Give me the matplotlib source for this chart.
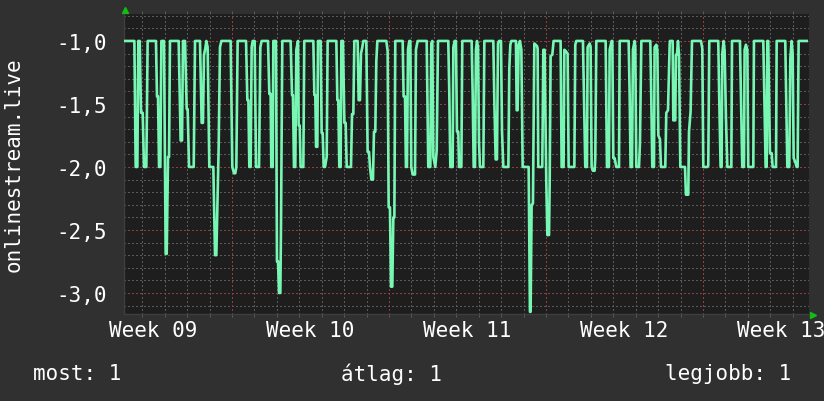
import matplotlib
matplotlib.use('Agg')
import matplotlib.pyplot as plt
from matplotlib.ticker import MultipleLocator, FixedLocator, FuncFormatter

# hours since the start of the graph (one block per ~6 days)
hours_1 = [1.0, 11.1, 12.5, 14.3, 15.3, 16.8, 18.2, 20.0, 21.4, 23.9,
           25.3, 34.2, 35.3, 36.4, 37.5, 38.9, 40.0, 42.8, 44.6, 45.7,
           47.1, 48.2, 49.2, 58.5, 60.6, 62.1, 63.1, 65.3, 67.1, 68.1,
           69.6, 74.6, 76.0, 81.3, 83.1, 84.5, 85.6, 87.0, 88.1, 89.5,
           91.3, 95.6, 97.4, 98.8, 99.9, 101.3, 102.7, 104.2, 114.1, 115.9,
           117.7, 119.1, 120.2, 121.6, 130.6, 132.0, 133.1, 134.1, 135.5, 136.6,
           137.7, 139.8, 141.3, 144.5]
values_1 = [-1.0, -1.0, -2.0, -2.0, -1.0, -1.0, -1.57, -1.57, -2.0, -2.0,
            -1.0, -1.0, -1.44, -1.44, -2.0, -2.0, -1.0, -1.0, -2.69, -2.69,
            -1.92, -1.92, -1.0, -1.0, -1.79, -1.79, -1.0, -1.0, -1.54, -1.54,
            -2.0, -2.0, -1.0, -1.0, -1.65, -1.65, -1.11, -1.06, -1.0, -1.05,
            -2.0, -2.0, -2.70, -2.70, -2.31, -1.84, -1.05, -1.0, -1.0, -2.0,
            -2.05, -2.05, -2.0, -1.0, -1.0, -1.47, -1.47, -2.0, -2.0, -1.05,
            -1.0, -1.0, -2.0, -2.0]

hours_2 = [145.9, 147.3, 154.1, 155.5, 156.9, 157.6, 159.1, 159.8, 162.6, 163.7,
           164.8, 165.9, 167.3, 168.0, 169.4, 178.3, 179.8, 180.8, 181.9, 183.3,
           184.4, 186.2, 186.9, 188.0, 189.0, 191.9, 192.9, 202.6, 203.7, 204.7,
           205.5, 206.9, 207.6, 210.4, 211.5, 212.6, 213.7, 215.1, 216.9, 217.9,
           227.2, 228.3, 229.3, 230.4, 231.8, 232.6, 234.3, 235.8, 237.2, 238.3,
           242.9, 244.0, 245.4, 246.5, 250.0, 251.1, 252.5, 253.6, 255.0, 256.1,
           259.3, 260.7, 262.2, 263.2, 264.7, 266.4, 267.5, 268.9, 270.0, 271.1,
           280.7, 282.1, 283.2, 284.6, 285.7, 287.1, 288.2, 289.3, 290.3]
values_2 = [-1.05, -1.0, -1.0, -1.42, -1.42, -2.0, -2.0, -1.0, -1.0, -2.75,
            -2.75, -3.0, -3.0, -2.47, -1.0, -1.0, -1.43, -1.43, -2.0, -2.0,
            -1.07, -1.0, -1.67, -1.67, -2.0, -2.0, -1.0, -1.0, -1.43, -1.43,
            -1.84, -1.84, -1.0, -1.0, -1.73, -1.73, -2.0, -2.0, -1.92, -1.0,
            -1.0, -1.47, -1.47, -2.0, -2.0, -1.0, -1.0, -1.65, -1.65, -2.0,
            -2.0, -1.58, -1.58, -1.0, -1.0, -1.47, -1.47, -1.1, -1.05, -1.0,
            -1.0, -1.88, -1.88, -2.0, -2.1, -2.1, -1.72, -1.72, -1.16, -1.0,
            -1.0, -1.08, -2.32, -2.32, -2.95, -2.95, -2.4, -2.4, -1.0]

hours_3 = [298.2, 299.2, 300.7, 301.7, 302.8, 303.9, 305.3, 306.4, 307.4, 308.9,
           311.4, 312.4, 314.2, 323.9, 324.6, 325.6, 327.8, 328.8, 329.9, 331.0,
           333.1, 334.6, 336.0, 347.0, 348.1, 349.2, 351.7, 352.4, 353.8, 355.2,
           356.3, 357.7, 358.5, 361.0, 362.0, 372.0, 373.1, 374.2, 375.6, 376.6,
           377.7, 378.8, 379.9, 380.9, 384.5, 385.6, 395.2, 396.3, 397.7, 399.1,
           400.2, 401.3, 403.4, 404.5, 405.9, 411.3, 412.3, 413.4, 414.5, 419.4,
           420.2, 421.2, 422.3, 423.7, 425.2, 426.6, 433.0, 434.4, 435.1, 436.2,
           437.6]
values_3 = [-1.0, -1.44, -1.44, -2.0, -2.0, -1.07, -1.0, -1.0, -2.0, -2.06,
            -2.06, -1.07, -1.0, -1.0, -1.42, -2.0, -2.0, -1.02, -1.0, -1.92,
            -2.0, -1.87, -1.0, -1.0, -1.42, -2.0, -2.0, -1.05, -1.0, -1.0,
            -1.72, -1.72, -2.0, -2.0, -1.0, -1.0, -1.42, -2.0, -2.0, -1.07,
            -1.0, -1.05, -1.8, -2.0, -2.0, -1.0, -1.0, -1.48, -1.94, -1.94,
            -1.02, -1.0, -1.0, -1.72, -2.0, -2.0, -1.22, -1.03, -1.0, -1.0,
            -1.55, -1.55, -1.03, -1.0, -1.07, -2.0, -2.0, -3.15, -3.15, -2.3,
            -2.29]

hours_4 = [439.1, 441.9, 442.6, 443.3, 447.6, 448.7, 450.1, 450.8, 451.9, 453.0,
           454.8, 455.5, 456.5, 458.3, 459.7, 467.2, 468.3, 470.4, 471.2, 472.6,
           474.7, 475.8, 481.9, 482.9, 484.0, 491.1, 492.2, 493.6, 495.4, 496.1,
           498.3, 499.3, 500.4, 501.8, 503.6, 504.3, 505.4, 515.4, 516.8, 518.9,
           519.7, 521.8, 522.5, 523.6, 525.0, 526.8, 529.7, 530.4, 540.0, 541.1,
           542.1, 543.6, 544.6, 546.4, 547.1, 548.2, 551.1, 552.1, 553.6, 563.2,
           564.3, 565.3, 567.1, 567.8, 569.6, 570.7, 571.8, 573.5, 574.6, 579.2,
           580.3, 582.1, 583.9]
values_4 = [-1.02, -1.04, -1.06, -2.0, -2.0, -1.07, -1.07, -1.51, -2.12, -2.54,
            -2.54, -2.13, -1.12, -1.11, -1.0, -1.0, -2.0, -2.0, -1.07, -1.08,
            -1.1, -2.0, -2.0, -1.03, -1.0, -1.0, -1.44, -2.0, -2.0, -1.05,
            -1.02, -1.05, -2.0, -2.03, -2.03, -1.93, -1.0, -1.0, -2.0, -2.0,
            -1.07, -1.0, -1.0, -1.93, -1.93, -2.0, -2.0, -1.0, -1.0, -1.43,
            -2.0, -2.0, -1.07, -1.0, -1.05, -2.0, -2.0, -1.81, -1.0, -1.0,
            -1.49, -2.0, -2.0, -1.05, -1.03, -1.07, -1.75, -1.78, -2.0, -2.0,
            -1.57, -1.55, -1.03]

hours_5 = [584.2, 587.1, 587.8, 589.9, 590.6, 591.7, 592.8, 593.9, 595.3, 600.3,
           601.3, 603.8, 604.6, 606.3, 607.8, 617.4, 618.8, 619.9, 624.2, 625.2,
           626.3, 635.9, 637.0, 638.4, 639.5, 640.2, 641.6, 642.7, 644.1, 645.6,
           649.9, 650.6, 659.1, 660.2, 661.6, 663.4, 664.1, 665.5, 667.0, 668.0,
           673.4, 674.1, 684.1, 685.2, 686.6, 687.7, 688.4, 689.4, 691.2, 693.0,
           694.1, 697.7, 698.4, 707.6, 708.7, 709.8, 711.9, 713.0, 714.4, 715.5,
           716.6, 718.3, 719.8, 720.8, 721.9, 730.5]
values_5 = [-1.0, -1.0, -1.63, -1.63, -1.11, -1.11, -1.0, -1.11, -2.0, -2.0,
            -2.22, -2.22, -1.72, -1.56, -1.0, -1.0, -1.06, -2.0, -2.0, -1.99,
            -1.0, -1.0, -1.48, -2.0, -2.0, -1.1, -1.0, -1.08, -1.6, -2.0,
            -2.0, -1.0, -1.0, -1.45, -2.0, -2.0, -1.07, -1.03, -1.07, -2.0,
            -2.0, -1.0, -1.0, -1.44, -2.0, -2.0, -1.0, -1.0, -1.89, -1.89,
            -2.0, -2.0, -1.0, -1.0, -1.48, -2.0, -2.0, -1.14, -1.0, -1.1,
            -1.93, -1.96, -2.0, -2.0, -1.0, -1.0]

week_names = ['Week 09', 'Week 10', 'Week 11', 'Week 12', 'Week 13']
week10_start = 115.6      # hours after graph start
span_hours = 733
legend_texts = ['most: 1', 'átlag: 1', 'legjobb: 1']
series_name = 'onlinestream.live'

hours = hours_1 + hours_2 + hours_3 + hours_4 + hours_5
values = values_1 + values_2 + values_3 + values_4 + values_5

BG = '#303030'
PLOT_BG = '#1e1e1e'
LINE = '#78f7b4'
MINOR = '#5a5a5a'
MAJOR = '#8e3e3e'
ARROW = '#10c010'
W, H = 824, 402

plt.rcParams['font.family'] = ['DejaVu Sans Mono']

fig = plt.figure(figsize=(W / 100, H / 100), dpi=100, facecolor=BG)
ax = fig.add_axes([124 / W, 87 / H, 685 / W, 300 / H])
ax.set_facecolor(PLOT_BG)
ax.set_axisbelow(True)

ax.plot(hours, values, color=LINE, lw=1.9, zorder=3)
ax.set_xlim(0, span_hours)
ax.set_ylim(-3.167, -0.786)

# y axis: labels every 0.5, grid every 0.1
ax.yaxis.set_major_locator(MultipleLocator(0.5))
ax.yaxis.set_minor_locator(MultipleLocator(0.1))
ax.yaxis.set_major_formatter(FuncFormatter(lambda v, p: f'{v:.1f}'.replace('.', ',')))

# x axis: labels in the middle of each week, grid every day, red line at week start
label_pos = [week10_start - 84 + 168 * k for k in range(len(week_names))]
day_pos = [week10_start + 24 * k for k in range(-4, 26) if 0 < week10_start + 24 * k < span_hours]
week_pos = [week10_start + 168 * k for k in range(4)]
ax.xaxis.set_major_locator(FixedLocator(label_pos))
ax.set_xticklabels(week_names)
ax.xaxis.set_minor_locator(FixedLocator(day_pos))

# dotted, pixel-crisp grid like rrdtool
dots = (0, (1, 2))
ax.grid(which='minor', axis='both', color=MINOR, ls=dots, lw=1, antialiased=False)
ax.grid(which='major', axis='y', color=MAJOR, ls=dots, lw=1, antialiased=False)
ax.grid(which='major', axis='x', visible=False)
for p in week_pos:
    ax.axvline(p, color=MAJOR, ls=dots, lw=1, antialiased=False, zorder=1)

ax.tick_params(axis='x', which='major', length=0, pad=4.5, labelsize=15, labelcolor='white')
ax.tick_params(axis='x', which='minor', top=True, bottom=True, direction='out',
               length=2.5, width=0.72, color=MINOR)
ax.tick_params(axis='y', which='both', length=0, pad=12, labelsize=15, labelcolor='white')

for side in ['top', 'right']:
    ax.spines[side].set_visible(False)
for side in ['left', 'bottom']:
    ax.spines[side].set_color('#3e3e3e')
    ax.spines[side].set_linewidth(1)

# little green arrows at the axis ends
ax.plot([0.002], [1.013], marker='^', ms=5, color=ARROW, mec=ARROW,
        transform=ax.transAxes, clip_on=False)
ax.plot([1.006], [-0.002], marker='>', ms=5, color=ARROW, mec=ARROW,
        transform=ax.transAxes, clip_on=False)

fig.text(14 / W, 1 - 165 / H, series_name, rotation=90, ha='center', va='center',
         color='white', fontsize=15)

fig.text(33 / W, 1 - 374 / H, legend_texts[0], ha='left', va='center', color='white', fontsize=15)
fig.text(341 / W, 1 - 374 / H, legend_texts[1], ha='left', va='center', color='white', fontsize=15)
fig.text(791 / W, 1 - 374 / H, legend_texts[2], ha='right', va='center', color='white', fontsize=15)

fig.savefig('out.png', dpi=100, facecolor=BG)
